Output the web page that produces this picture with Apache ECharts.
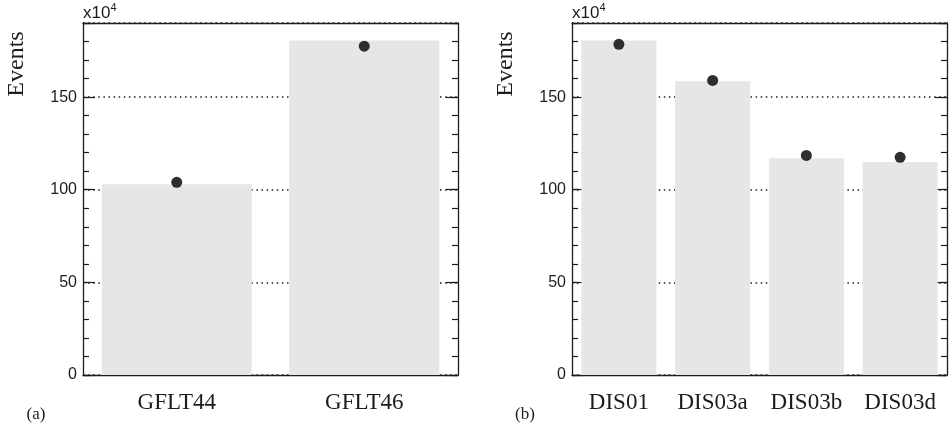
<!DOCTYPE html>
<html>
<head>
<meta charset="utf-8">
<script src="https://cdn.jsdelivr.net/npm/echarts@6/dist/echarts.min.js"></script>
<style>
  html, body { margin: 0; padding: 0; background: #ffffff; }
  #chart { width: 951px; height: 432px; }
</style>
</head>
<body>
<div id="chart"></div>
<script>
// Panel (a): flight samples, values in units of 10^4 events
const flightCategories = ['GFLT44', 'GFLT46'];
const flightBars = [103, 180.5];
const flightPoints = [104, 177.5];

// Panel (b): DIS samples, values in units of 10^4 events
const disCategories = ['DIS01', 'DIS03a', 'DIS03b', 'DIS03d'];
const disBars = [180.5, 158.5, 117, 115];
const disPoints = [178.5, 159, 118.5, 117.5];

// Shared value-axis range
const yMin = 0;
const yMax = 190;
const yMajor = 50;
const yMinor = 10;

const INK = '#1c1c1c';
const BAR = '#e6e6e6';
const DOT = '#2e2e2e';
const SANS = 'Liberation Sans, Arial, sans-serif';
const SERIF = 'Liberation Serif, Times New Roman, serif';

// Four value axes per panel: fine ticks + labels, and long major ticks + dotted grid,
// on both the left and right edges.
function valueAxes(gridIndex) {
  const base = { type: 'value', gridIndex: gridIndex, min: yMin, max: yMax, offset: 0 };
  const fine = Object.assign({}, base, {
    interval: yMinor,
    axisLine: { show: true, lineStyle: { color: INK, width: 1.3 } },
    axisTick: { show: true, inside: true, length: 6, lineStyle: { color: INK, width: 1.2 } },
    splitLine: { show: false }
  });
  const major = Object.assign({}, base, {
    interval: yMajor,
    axisLine: { show: false },
    axisLabel: { show: false },
    axisTick: { show: true, inside: true, length: 12, lineStyle: { color: INK, width: 1.2 } },
    splitLine: { show: false }
  });
  return [
    Object.assign({}, fine, {
      position: 'left',
      name: '{a|x10}{s|4}',
      nameLocation: 'end',
      nameGap: 1,
      nameTextStyle: {
        align: 'left',
        verticalAlign: 'bottom',
        rich: {
          a: { fontFamily: SANS, fontSize: 17, color: INK, lineHeight: 20, verticalAlign: 'bottom' },
          s: { fontFamily: SANS, fontSize: 11, color: INK, lineHeight: 20, verticalAlign: 'top' }
        }
      },
      axisLabel: {
        show: true,
        margin: 6,
        fontFamily: SANS,
        fontSize: 16,
        color: INK,
        formatter: function (v) { return v % yMajor === 0 ? String(v) : ''; }
      }
    }),
    Object.assign({}, major, {
      position: 'left',
      splitLine: { show: true, lineStyle: { color: '#1e1e1e', width: 1.5, type: [1.5, 3.6] } }
    }),
    Object.assign({}, fine, { position: 'right', axisLabel: { show: false } }),
    Object.assign({}, major, { position: 'right' })
  ];
}

function categoryAxes(gridIndex, cats) {
  return [
    {
      type: 'category', gridIndex: gridIndex, position: 'bottom', data: cats,
      axisLine: { show: true, onZero: false, lineStyle: { color: INK, width: 1.3 } },
      axisTick: { show: false },
      axisLabel: { margin: 16, fontFamily: SERIF, fontSize: 23, color: INK },
      splitLine: { show: false }
    },
    {
      type: 'category', gridIndex: gridIndex, position: 'top', data: cats,
      axisLine: { show: true, onZero: false, lineStyle: { color: INK, width: 1.3 } },
      axisTick: { show: false },
      axisLabel: { show: false },
      splitLine: { show: false }
    }
  ];
}

const grids = [
  { left: 83, top: 23, width: 375, height: 352 },
  { left: 572, top: 23, width: 375, height: 352 }
];

const xAxes = categoryAxes(0, flightCategories).concat(categoryAxes(1, disCategories));
const yAxes = valueAxes(0).concat(valueAxes(1));

function panelSeries(xIndex, yIndex, bars, points) {
  return [
    {
      type: 'bar', xAxisIndex: xIndex, yAxisIndex: yIndex, data: bars,
      barWidth: '80%', itemStyle: { color: BAR }, silent: true, z: 2
    },
    {
      type: 'scatter', xAxisIndex: xIndex, yAxisIndex: yIndex, data: points,
      symbol: 'circle', symbolSize: 11, itemStyle: { color: DOT, opacity: 1 }, silent: true, z: 3
    }
  ];
}

const series = panelSeries(0, 0, flightBars, flightPoints)
  .concat(panelSeries(2, 4, disBars, disPoints));

function sideText(text, x, y, size, rotate) {
  return {
    type: 'text', x: x, y: y, rotation: rotate ? Math.PI / 2 : 0, silent: true,
    style: {
      text: text, fill: INK, fontFamily: SERIF, fontSize: size,
      align: 'center', verticalAlign: 'middle',
      textAlign: 'center', textVerticalAlign: 'middle'
    }
  };
}

const chart = echarts.init(document.getElementById('chart'), null, { renderer: 'canvas' });
chart.setOption({
  animation: false,
  backgroundColor: '#ffffff',
  grid: grids,
  xAxis: xAxes,
  yAxis: yAxes,
  series: series,
  graphic: [
    sideText('Events', 17, 64, 24, true),
    sideText('Events', 506, 64, 24, true),
    sideText('(a)', 36, 415, 17, false),
    sideText('(b)', 525, 415, 17, false)
  ]
});
</script>
</body>
</html>
